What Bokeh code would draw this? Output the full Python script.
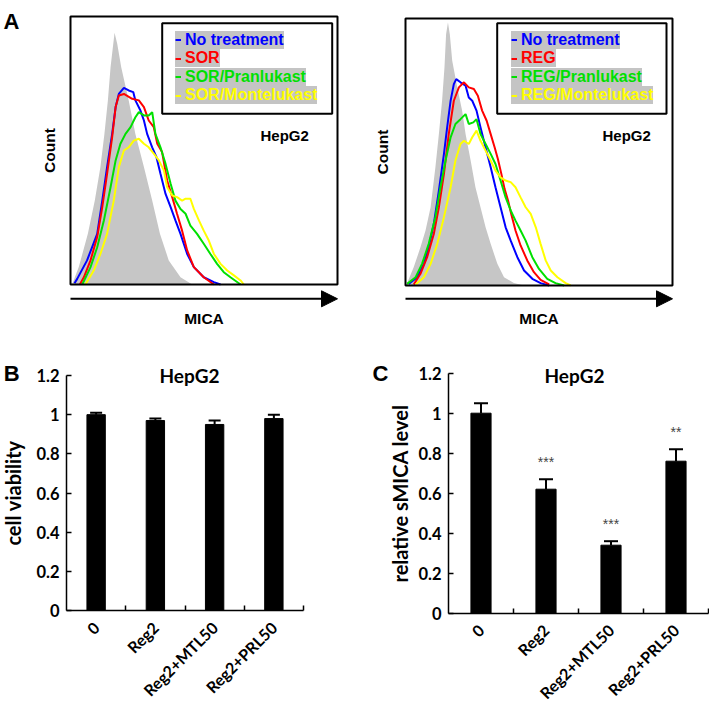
import math
from bokeh.plotting import figure
from bokeh.layouts import column, row
from bokeh.models import (Range1d, ColumnDataSource, Whisker, TeeHead, Arrow, NormalHead,
                          Label, Legend, LegendItem, BoxAnnotation, FixedTicker,
                          NumeralTickFormatter, LinearAxis)
from bokeh.embed import file_html
from bokeh.resources import INLINE

# ---------------- Panel A: MICA flow cytometry histograms ----------------
# x: MICA intensity (% of axis), y: count (% of axis)
sor_names = ["No treatment", "SOR", "SOR/Pranlukast", "SOR/Montelukast"]
reg_names = ["No treatment", "REG", "REG/Pranlukast", "REG/Montelukast"]
series_colors = ["#0000ff", "#ff0000", "#00e000", "#ffff00"]
isotype_color = "#c6c6c6"

sor_iso_x = [0, 0.6, 3.1, 6.5, 9.1, 11.2, 12.7, 14.0, 15.0, 16.5, 17.5, 19.0, 21.8, 24.3,
             27.5, 30.6, 33.5, 36.8, 41.2, 45.6]
sor_iso_y = [0, 0, 6.5, 18.9, 31.3, 43.8, 56.2, 68.7, 81.1, 93.9, 89.8, 81.1, 68.7, 56.2,
             43.8, 31.3, 18.9, 9.0, 2.7, 0]
sor_none_x = [1.5, 2.5, 6.2, 10.0, 11.9, 13.7, 15.6, 16.9, 18.1, 20.0, 21.8, 23.5, 24.3, 26.2,
              27.5, 28.7, 30.6, 32.2, 33.7, 35.6, 37.5, 39.3, 41.2, 43.7, 46.2, 49.9, 53.7, 56.2]
sor_none_y = [0.5, 2.1, 9.0, 18.9, 31.3, 43.8, 56.2, 66.2, 71.1, 73.4, 72.4, 71.8, 68.7, 64.9,
              61.2, 56.2, 51.2, 47.5, 41.3, 33.8, 28.9, 23.9, 18.9, 11.4, 6.5, 2.7, 0.9, 0]
sor_drug_x = [3.5, 5.0, 7.5, 10.0, 11.9, 13.7, 15.6, 16.9, 18.1, 20.0, 23.1, 25.6, 27.5, 29.3,
              31.2, 32.5, 34.3, 36.2, 38.1, 39.9, 41.8, 43.7, 46.2, 49.9, 53.7]
sor_drug_y = [0, 2.7, 9.0, 17.7, 28.9, 41.3, 55.0, 66.2, 70.5, 71.1, 69.3, 68.7, 66.2, 61.2,
              58.7, 52.5, 49.4, 38.8, 32.6, 26.4, 20.1, 12.7, 6.5, 2.7, 0]
sor_prl_x = [4.4, 7.5, 10.0, 12.5, 15.0, 16.9, 18.7, 20.6, 22.5, 24.3, 25.6, 27.5, 29.3, 30.6,
             31.8, 33.7, 35.6, 37.5, 39.3, 41.2, 43.1, 44.9, 47.4, 49.9, 52.4, 54.9, 57.4, 59.9, 63.7]
sor_prl_y = [0, 6.5, 13.9, 23.9, 36.3, 46.3, 52.5, 56.2, 58.7, 62.4, 64.3, 63.1, 63.1, 64.3,
             56.2, 51.2, 45.0, 37.6, 31.3, 28.2, 26.4, 22.0, 18.9, 15.2, 11.4, 7.7, 4.6, 2.7, 0]
sor_mtl_x = [5.6, 8.7, 11.2, 13.7, 16.2, 18.1, 20.0, 21.8, 23.7, 25.6, 27.5, 29.3, 31.2, 33.1,
             35.0, 36.2, 38.1, 39.9, 41.8, 43.1, 44.9, 46.2, 48.1, 49.9, 51.8, 53.7, 56.2, 58.7,
             61.2, 63.7, 64.9]
sor_mtl_y = [0, 5.2, 11.4, 18.9, 31.3, 43.8, 50.0, 51.2, 53.7, 54.4, 52.5, 51.2, 48.8, 46.3,
             42.5, 36.3, 33.2, 32.6, 31.3, 32.0, 32.0, 28.2, 23.9, 20.1, 16.4, 11.4, 7.7, 5.2,
             3.4, 1.5, 0]

reg_iso_x = [0, 0.4, 3.1, 5.6, 7.5, 9.4, 11.2, 12.5, 13.7, 14.6, 15.2, 15.9, 16.6, 17.5, 19.4,
             21.2, 22.5, 24.4, 26.2, 28.1, 30.0, 31.9, 34.4, 36.9, 40.6, 44.4]
reg_iso_y = [0, 0.4, 6.9, 14.3, 20.6, 29.3, 44.3, 56.7, 69.2, 81.7, 94.1, 98.5, 94.1, 84.2, 74.2,
             65.5, 56.7, 46.8, 36.8, 29.3, 21.8, 15.6, 8.1, 3.1, 0.9, 0]
reg_none_x = [1.2, 4.4, 6.9, 8.7, 10.6, 12.5, 14.4, 15.6, 16.9, 18.1, 19.0, 20.6, 22.5, 23.7,
              25.0, 26.6, 28.1, 30.0, 31.9, 33.7, 35.6, 37.5, 39.4, 41.9, 44.4, 47.5, 50.6, 53.8]
reg_none_y = [0.6, 3.1, 8.1, 14.3, 23.1, 35.5, 49.3, 59.2, 69.2, 75.4, 77.3, 76.1, 74.8, 70.4,
              69.2, 65.5, 59.2, 51.7, 44.3, 36.8, 29.3, 21.8, 16.8, 10.6, 5.6, 2.5, 0.9, 0]
reg_drug_x = [3.1, 5.6, 8.1, 10.6, 12.5, 14.4, 16.2, 18.1, 20.0, 21.9, 23.7, 25.6, 27.1, 28.7,
              30.4, 31.9, 33.4, 34.6, 35.9, 37.1, 38.4, 39.6, 41.2, 43.1, 45.6, 48.1, 50.6, 53.8]
reg_drug_y = [0.4, 4.4, 10.6, 19.3, 29.3, 41.8, 56.7, 69.2, 74.2, 76.1, 74.2, 73.6, 71.1, 65.5,
              61.7, 56.7, 51.7, 47.4, 41.8, 36.2, 31.8, 26.8, 20.6, 15.0, 9.4, 5.0, 2.1, 0.4]
reg_prl_x = [0.6, 3.8, 6.2, 8.7, 11.2, 13.1, 15.0, 16.9, 18.7, 20.6, 22.5, 23.7, 25.4, 26.6,
             28.1, 30.0, 31.9, 33.7, 35.6, 37.5, 39.4, 41.2, 43.1, 45.0, 47.5, 50.0, 53.1, 56.2, 59.4]
reg_prl_y = [0.6, 3.1, 8.1, 15.6, 25.6, 36.8, 46.8, 55.5, 60.5, 62.3, 64.2, 60.5, 61.1, 62.3,
             56.7, 53.0, 49.3, 45.5, 39.3, 33.0, 28.1, 24.3, 20.6, 16.8, 10.6, 6.2, 2.5, 0.9, 0]
reg_mtl_x = [3.8, 6.9, 9.4, 11.9, 14.4, 16.9, 18.7, 20.6, 21.9, 23.7, 25.0, 26.6, 28.1, 30.0,
             31.9, 33.7, 35.6, 37.5, 39.4, 41.2, 43.1, 45.0, 46.9, 48.8, 50.6, 52.5, 54.4, 56.9,
             60.0, 61.9]
reg_mtl_y = [0.4, 3.1, 8.1, 15.6, 25.6, 36.8, 46.8, 53.0, 54.2, 53.0, 55.5, 58.0, 54.2, 50.5,
             46.8, 43.0, 40.5, 39.3, 38.7, 36.8, 33.0, 29.3, 26.8, 21.8, 15.6, 9.4, 5.6, 3.1,
             0.9, 0]

# ---------------- Panels B and C: bar charts ----------------
categories = ["0", "Reg2", "Reg2+MTL50", "Reg2+PRL50"]
viability = [1.00, 0.97, 0.95, 0.98]
viability_err = [0.01, 0.01, 0.02, 0.02]
smica = [1.00, 0.62, 0.34, 0.76]
smica_err = [0.05, 0.05, 0.02, 0.06]
smica_sig = ["", "***", "***", "**"]
y_ticks = [0, 0.2, 0.4, 0.6, 0.8, 1.0, 1.2]

ARIAL = "Liberation Sans"
CALI = "Lato"


class Frame:
    """Maps page pixel positions of a panel's plotting box onto its data coordinates."""

    def __init__(self, W, H, ox, oy, L, R, T, B, x0, x1, y0, y1):
        self.W, self.H, self.ox, self.oy = W, H, ox, oy
        L, R, T, B = L - ox, R - ox, T - oy, B - oy
        self.L, self.B = L, B
        self.sx = (x1 - x0) / (R - L)
        self.sy = (y1 - y0) / (B - T)
        self.x0, self.y0 = x0, y0
        self.xr = (x0 - L * self.sx, x0 + (W - L) * self.sx)
        self.yr = (y0 - (H - B) * self.sy, y0 + B * self.sy)

    def X(self, px):
        return self.x0 + (px - self.ox - self.L) * self.sx

    def Y(self, py):
        return self.y0 + (self.B - (py - self.oy)) * self.sy

    def figure(self):
        p = figure(width=self.W, height=self.H, x_range=Range1d(*self.xr),
                   y_range=Range1d(*self.yr), x_axis_type=None, y_axis_type=None,
                   min_border=0, output_backend="svg", toolbar_location=None)
        p.outline_line_color = None
        p.background_fill_color = "white"
        p.border_fill_color = "white"
        return p


def txt(p, x, y, text, font, size, align="left", baseline="middle", angle=0, color="black",
        bold=True):
    p.add_layout(Label(x=x, y=y, text=text, text_font=font,
                       text_font_style="bold" if bold else "normal",
                       text_font_size=size, text_align=align, text_baseline=baseline,
                       angle=angle, text_color=color))


def flow_panel(fr, names, iso, curves, box_px, leg_px, hep_px, arrow_py, count_px, mica_px,
               letter=None):
    p = fr.figure()
    p.varea(x=iso[0], y1=0, y2=iso[1], fill_color=isotype_color, fill_alpha=1)
    rends = []
    for (cx, cy), col in zip(curves, series_colors):
        rends.append(p.line(cx, cy, line_color=col, line_width=2))
    # plotting box
    p.add_layout(BoxAnnotation(left=0, right=100, bottom=0, top=100, fill_alpha=0,
                               line_color="black", line_width=2, line_alpha=1))
    # legend box
    p.add_layout(BoxAnnotation(left=fr.X(box_px[0]), right=fr.X(box_px[1]),
                               top=fr.Y(box_px[2]), bottom=fr.Y(box_px[3]),
                               fill_color="white", fill_alpha=1, line_color="black",
                               line_width=2, line_alpha=1))
    lx, ltop = leg_px
    for i, (r, name, col) in enumerate(zip(rends, names, series_colors)):
        bottom_page = ltop + 17 + 18.5 * i
        leg = Legend(items=[LegendItem(label=name, renderers=[r])],
                     location=(lx - fr.ox, fr.H - (bottom_page - fr.oy)),
                     orientation="vertical",
                     border_line_color=None, background_fill_color="#c4c4c4",
                     background_fill_alpha=1, padding=0, margin=0, spacing=0,
                     glyph_width=6, glyph_height=15, label_height=15, label_width=0,
                     label_standoff=4, label_text_font=ARIAL, label_text_font_style="bold",
                     label_text_font_size="16px", label_text_color=col,
                     label_text_baseline="middle")
        p.add_layout(leg)
    txt(p, fr.X(hep_px[0]), fr.Y(hep_px[1]), "HepG2", ARIAL, "15px")
    ay = fr.Y(arrow_py)
    p.add_layout(Arrow(x_start=0, y_start=ay, x_end=100, y_end=ay,
                       line_width=2, line_color="black",
                       end=NormalHead(size=16, fill_color="black", line_color="black")))
    txt(p, fr.X(count_px), 50, "Count", ARIAL, "15.5px", align="center", angle=math.pi / 2)
    txt(p, 50, fr.Y(mica_px), "MICA", ARIAL, "15.5px", align="center")
    if letter:
        txt(p, fr.X(letter[0]), fr.Y(letter[1]), letter[2], ARIAL, "22px",
            baseline="alphabetic")
    return p


def bar_panel(fr, vals, errs, ylabel, cap, letter, title_px, label_standoff, sig=None):
    p = fr.figure()
    n = len(categories)
    xs = [i + 0.5 for i in range(n)]
    p.vbar(x=xs, top=vals, width=0.31, fill_color="black", line_color="black")
    src = ColumnDataSource(dict(x=xs, lo=vals, hi=[v + e for v, e in zip(vals, errs)]))
    p.add_layout(Whisker(source=src, base="x", lower="lo", upper="hi", lower_head=None,
                         upper_head=TeeHead(size=cap, line_width=2, line_color="black"),
                         line_width=2, line_color="black", level="annotation"))
    if sig:
        sx, sy, st = [], [], []
        for x, v, e, s in zip(xs, vals, errs, sig):
            if s:
                sx.append(x)
                sy.append(v + e + 0.085)
                st.append(s)
        p.text(x=sx, y=sy, text=st, text_align="center", text_baseline="middle",
               text_font_size="14px", text_color="#444444")

    xa = LinearAxis(fixed_location=0, bounds=(0, n),
                    ticker=FixedTicker(ticks=xs, minor_ticks=list(range(1, n + 1))),
                    major_label_overrides={x: c for x, c in zip(xs, categories)})
    xa.major_tick_line_color = None
    xa.major_tick_in = 0
    xa.major_tick_out = 0
    xa.minor_tick_in = 5
    xa.minor_tick_out = 0
    xa.minor_tick_line_color = "black"
    xa.minor_tick_line_width = 1.5
    xa.axis_line_width = 1.5
    xa.major_label_orientation = math.pi / 4
    xa.major_label_standoff = 14
    xa.major_label_text_font = CALI
    xa.major_label_text_font_style = "bold"
    xa.major_label_text_font_size = "16px"
    xa.major_label_text_color = "black"
    p.add_layout(xa, "below")

    ya = LinearAxis(fixed_location=0, bounds=(0, 1.2), ticker=FixedTicker(ticks=y_ticks),
                    formatter=NumeralTickFormatter(format="0.[0]"))
    ya.major_tick_in = 5
    ya.major_tick_out = 0
    ya.major_tick_line_width = 1.5
    ya.minor_tick_line_color = None
    ya.axis_line_width = 1.5
    ya.major_label_standoff = 7
    ya.major_label_text_font = CALI
    ya.major_label_text_font_style = "bold"
    ya.major_label_text_font_size = "16.5px"
    ya.major_label_text_color = "black"
    ya.axis_label = ylabel
    ya.axis_label_standoff = label_standoff
    ya.axis_label_text_font = CALI
    ya.axis_label_text_font_style = "bold"
    ya.axis_label_text_font_size = "20px"
    ya.axis_label_text_color = "black"
    p.add_layout(ya, "left")

    txt(p, fr.X(title_px[0]), fr.Y(title_px[1]), "HepG2", CALI, "19px", align="center",
        baseline="alphabetic")
    txt(p, fr.X(letter[0]), fr.Y(letter[1]), letter[2], ARIAL, "22px", baseline="alphabetic")
    return p


frA1 = Frame(368, 352, 0, 0, 70, 337, 16, 284, 0, 100, 0, 100)
frA2 = Frame(341, 352, 368, 0, 405, 672, 18, 285, 0, 100, 0, 100)
frB = Frame(360, 349, 0, 352, 66, 303, 375, 610, 0, 4, 0, 1.2)
frC = Frame(349, 349, 360, 352, 448, 708, 372.7, 612.7, 0, 4, 0, 1.2)

fA1 = flow_panel(frA1, sor_names, (sor_iso_x, sor_iso_y),
                 [(sor_none_x, sor_none_y), (sor_drug_x, sor_drug_y),
                  (sor_prl_x, sor_prl_y), (sor_mtl_x, sor_mtl_y)],
                 (161.7, 331.7, 22.7, 113.3), (175, 31.7), (260, 135), 298.3, 49, 318,
                 letter=(3, 21, "A"))
fA2 = flow_panel(frA2, reg_names, (reg_iso_x, reg_iso_y),
                 [(reg_none_x, reg_none_y), (reg_drug_x, reg_drug_y),
                  (reg_prl_x, reg_prl_y), (reg_mtl_x, reg_mtl_y)],
                 (496.7, 666, 22.7, 113.3), (511, 31.7), (602, 135), 298.3, 382, 318)

fB = bar_panel(frB, viability, viability_err, "cell viability", 12, (3.3, 373.3, "B"),
               (189, 375), 8)
fC = bar_panel(frC, smica, smica_err, "relative sMICA level", 14, (372, 373.3, "C"),
               (574, 375), 3, sig=smica_sig)

layout = column(row(fA1, fA2), row(fB, fC))
open("out.html", "w").write(file_html(layout, INLINE))
